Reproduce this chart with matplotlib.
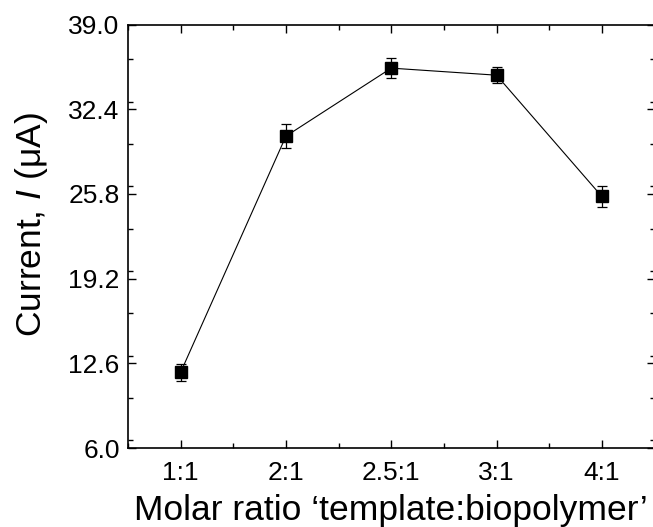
import matplotlib
matplotlib.use("Agg")
import matplotlib.pyplot as plt
from matplotlib.ticker import MultipleLocator, FixedLocator

plt.rcParams['font.family'] = ['Liberation Sans', 'DejaVu Sans']
plt.rcParams['mathtext.fontset'] = 'custom'
plt.rcParams['mathtext.it'] = 'Liberation Sans:italic'
plt.rcParams['mathtext.rm'] = 'Liberation Sans'

categories = ['1:1', '2:1', '2.5:1', '3:1', '4:1']
current = [11.9, 30.3, 35.6, 35.05, 25.6]
errors = [0.65, 0.95, 0.76, 0.62, 0.8]
y_ticks = [6.0, 12.6, 19.2, 25.8, 32.4, 39.0]

fig = plt.figure(figsize=(6.53, 5.27), dpi=100)
ax = fig.add_axes([128/653, 1-448/527, (654.5-128)/653, (448-24.5)/527])

x = list(range(1, len(categories) + 1))
ax.plot(x, current, '-', color='black', lw=0.8, zorder=2)
ax.errorbar(x, current, yerr=errors, fmt='none', ecolor='black', elinewidth=0.9,
            capsize=3.3, capthick=0.9, zorder=3)
ax.plot(x, current, 's', color='black', ms=8.5, zorder=4, lw=0)

ax.set_xlim(0.5, 5.5)
ax.set_ylim(6.0, 39.0)
ax.xaxis.set_major_locator(FixedLocator(x))
ax.set_xticklabels(categories)
ax.xaxis.set_minor_locator(MultipleLocator(0.5))
ax.set_yticks(y_ticks)
ax.set_yticklabels([f"{v:.1f}" for v in y_ticks])
ax.yaxis.set_minor_locator(MultipleLocator(3.3))

ax.tick_params(which='both', direction='in', top=True, right=True, width=1.0, labelsize=19)
ax.tick_params(which='major', length=6, pad=6)
ax.tick_params(axis='x', which='major', pad=9)
ax.tick_params(which='minor', length=3.5)
for s in ax.spines.values():
    s.set_linewidth(1.2)

ax.set_xlabel("Molar ratio \u2018template:biopolymer\u2019", fontsize=25.5, labelpad=7)
ax.set_ylabel("Current, $\\mathit{I}$ (\u03bcA)", fontsize=25.5)
ax.yaxis.set_label_coords(-0.148, 0.527)

fig.savefig("out.png", dpi=100)
